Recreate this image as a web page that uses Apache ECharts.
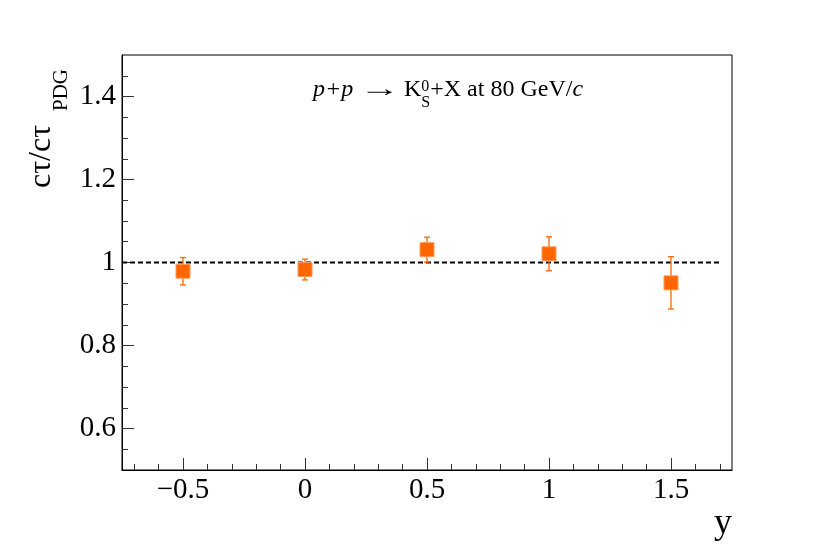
<!DOCTYPE html>
<html><head><meta charset="utf-8">
<script src="https://cdn.jsdelivr.net/npm/echarts@6/dist/echarts.min.js"></script>
<style>html,body{margin:0;padding:0;background:#fff}#c{width:814px;height:554px}</style>
</head><body><div id="c"></div>
<script>
// data
const rapidity = [-0.5, 0, 0.5, 1, 1.5];
const ratio = [0.979, 0.983, 1.031, 1.021, 0.951];
const ratioErr = [0.033, 0.025, 0.030, 0.041, 0.063];
const refLineX = [-0.75, 1.7];
const refLineY = [1, 1];
const xMajorTicks = [-0.5, 0, 0.5, 1, 1.5];
const xMinorTicks = [-0.7,-0.6,-0.5,-0.4,-0.3,-0.2,-0.1,0,0.1,0.2,0.3,0.4,0.5,0.6,0.7,0.8,0.9,1,1.1,1.2,1.3,1.4,1.5,1.6,1.7];
const yMajorTicks = [0.6, 0.8, 1.0, 1.2, 1.4];
const yMinorTicks = [0.55,0.6,0.65,0.7,0.75,0.8,0.85,0.9,0.95,1,1.05,1.1,1.15,1.2,1.25,1.3,1.35,1.4,1.45];

const FONT = '"Liberation Serif","DejaVu Serif",serif';
const ORANGE = '#ff6600';
const chart = echarts.init(document.getElementById('c'), null, {renderer:'canvas'});
const fmt = v => { const s = String(Math.round(v*100)/100); return s.replace('-', '\u2212'); };

// annotation layout: segments laid out with measured widths
const cv = document.createElement('canvas').getContext('2d');
const FS = 24, SFS = 16;
const segs = [
  {t:'p+p', f:'italic '+FS+'px '+FONT, dy:0, gapAfter:6, sx:1},
  {t:'\u2192', f:FS+'px '+FONT, dy:0, gapAfter:4, sx:1.7},
  {t:'K', f:FS+'px '+FONT, dy:0, gapAfter:0, sx:1},
  {t:'0', f:SFS+'px '+FONT, dy:-7, gapAfter:0, sx:1, stack:true},
  {t:'S', f:SFS+'px '+FONT, dy:9, gapAfter:0, sx:1},
  {t:'+X at 80 GeV/', f:FS+'px '+FONT, dy:0, gapAfter:0, sx:1},
  {t:'c', f:'italic '+FS+'px '+FONT, dy:0, gapAfter:0, sx:1}
];
const annot = [];
let ax = 313; const baseY = 102;
segs.forEach(s => {
  cv.font = s.f; const w = cv.measureText(s.t).width * s.sx;
  annot.push({type:'text', x:ax, y:baseY + s.dy, scaleX:s.sx, style:{text:s.t, font:s.f, fill:'#000', textVerticalAlign:'bottom'}});
  if (!s.stack) ax += w + s.gapAfter;
});

const option = {
  animation: false,
  backgroundColor: '#fff',
  grid: {left:122, right:82, top:55, bottom:84, show:true, borderColor:'#000', borderWidth:1, backgroundColor:'transparent'},
  xAxis: [
    {type:'value', min:-0.75, max:1.75, position:'bottom',
     axisLine:{show:true, onZero:false, lineStyle:{color:'#000', width:1}},
     axisTick:{show:true, inside:true, length:12, customValues:xMajorTicks, lineStyle:{color:'#333'}},
     axisLabel:{show:true, customValues:xMajorTicks, formatter:fmt, margin:6, color:'#000', fontFamily:FONT, fontSize:29},
     splitLine:{show:false}},
    {type:'value', min:-0.75, max:1.75, position:'bottom', gridIndex:0,
     axisLine:{show:false, onZero:false},
     axisTick:{show:true, inside:true, length:6, customValues:xMinorTicks, lineStyle:{color:'#333'}},
     axisLabel:{show:false}, splitLine:{show:false}}
  ],
  yAxis: [
    {type:'value', min:0.5, max:1.5, position:'left',
     axisLine:{show:true, onZero:false, lineStyle:{color:'#000', width:1}},
     axisTick:{show:true, inside:true, length:12, customValues:yMajorTicks, lineStyle:{color:'#333'}},
     axisLabel:{show:true, customValues:yMajorTicks, formatter:fmt, margin:6, color:'#000', fontFamily:FONT, fontSize:29},
     splitLine:{show:false}},
    {type:'value', min:0.5, max:1.5, position:'left',
     axisLine:{show:false, onZero:false},
     axisTick:{show:true, inside:true, length:6, customValues:yMinorTicks, lineStyle:{color:'#333'}},
     axisLabel:{show:false}, splitLine:{show:false}}
  ],
  series: [
    {type:'line', data: refLineX.map((x,i)=>[x, refLineY[i]]), symbol:'none',
     lineStyle:{color:'#000', width:2, type:[5,3]}, z:2},
    {type:'custom', z:3,
     data: rapidity.map((x,i)=>[x, ratio[i]-ratioErr[i], ratio[i]+ratioErr[i]]),
     renderItem: function(params, api){
       const lo = api.coord([api.value(0), api.value(1)]);
       const hi = api.coord([api.value(0), api.value(2)]);
       const cw = 3;
       const st = {stroke:ORANGE, lineWidth:1.3};
       return {type:'group', children:[
         {type:'line', shape:{x1:lo[0], y1:lo[1], x2:hi[0], y2:hi[1]}, style:st},
         {type:'line', shape:{x1:lo[0]-cw, y1:lo[1], x2:lo[0]+cw, y2:lo[1]}, style:st},
         {type:'line', shape:{x1:hi[0]-cw, y1:hi[1], x2:hi[0]+cw, y2:hi[1]}, style:st}
       ]};
     }},
    {type:'scatter', z:4, data: rapidity.map((x,i)=>[x, ratio[i]]), symbol:'rect', symbolSize:14,
     itemStyle:{color:ORANGE, opacity:1, borderColor:'#ff9a5a', borderWidth:1}}
  ],
  graphic: annot.concat([
    {type:'text', x:58, y:188, rotation:Math.PI/2, style:{text:'c\u03c4/c\u03c4', font:'32px '+FONT, fill:'#000', textVerticalAlign:'bottom'}},
    {type:'text', x:72, y:111, rotation:Math.PI/2, style:{text:'PDG', font:'21px '+FONT, fill:'#000', textVerticalAlign:'bottom'}},
    {type:'text', x:732, y:542, style:{text:'y', font:'36px '+FONT, fill:'#000', textAlign:'right', textVerticalAlign:'bottom'}}
  ])
};
chart.setOption(option);
</script></body></html>
